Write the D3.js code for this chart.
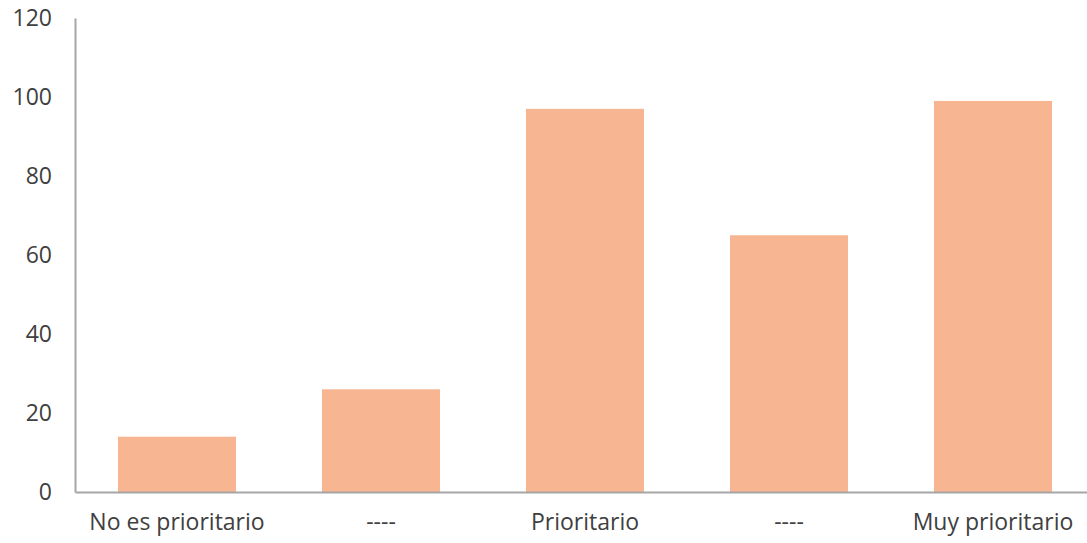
<!DOCTYPE html>
<html><head><meta charset="utf-8">
<script src="https://cdn.jsdelivr.net/npm/d3@7"></script>
<style>body{margin:0;background:#fff;overflow:hidden}svg{display:block}</style>
</head><body>
<script>
const categories = ["No es prioritario", "----", "Prioritario", "-----", "Muy prioritario"];
const categoryLabels = ["No es prioritario", "----", "Prioritario", "----", "Muy prioritario"];
const values = [14, 26, 97, 65, 99];
const yTicks = [0, 20, 40, 60, 80, 100, 120];

const W = 1087, H = 543;
const m = {left: 75, top: 18, bottom: 51};
const svg = d3.select("body").append("svg").attr("width", W).attr("height", H);

const x = d3.scaleBand().domain(categories).range([m.left, 1095]).paddingInner(0.4216).paddingOuter(0.2108);
const y = d3.scaleLinear().domain([0, 120]).range([H - m.bottom, m.top]);

svg.selectAll("rect.bar").data(values).join("rect")
  .attr("class", "bar")
  .attr("x", (d, i) => x(categories[i]))
  .attr("y", d => y(d))
  .attr("width", x.bandwidth())
  .attr("height", d => y(0) - y(d))
  .attr("fill", "#F8B591");

const font = "'Open Sans', 'Liberation Sans', sans-serif";

const yAxis = svg.append("g").attr("transform", `translate(${m.left},0)`)
  .call(d3.axisLeft(y).tickValues(yTicks).tickSize(0).tickPadding(23));
yAxis.select(".domain").attr("stroke", "#a6a6a6").attr("stroke-width", 2);
yAxis.selectAll("text").attr("font-family", font).attr("font-size", 23).attr("fill", "#404040");

const xAxis = svg.append("g").attr("transform", `translate(0,${y(0)})`)
  .call(d3.axisBottom(x).tickSize(0).tickPadding(22).tickFormat((d, i) => categoryLabels[i]));
xAxis.select(".domain").attr("stroke", "#a6a6a6").attr("stroke-width", 2);
xAxis.selectAll("text").attr("font-family", font).attr("font-size", 23).attr("fill", "#404040");
</script>
</body></html>
